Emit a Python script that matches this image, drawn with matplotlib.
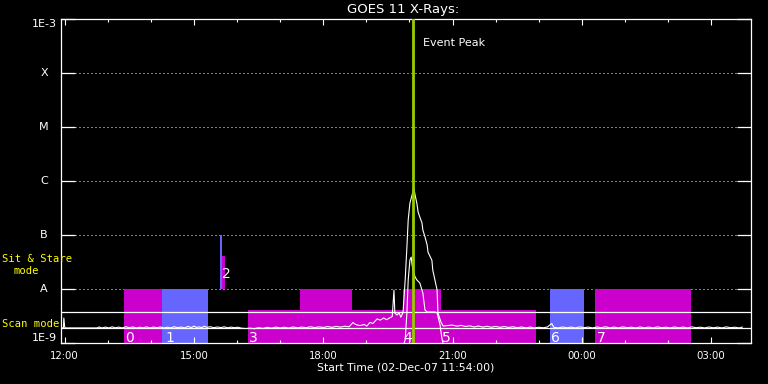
import matplotlib
matplotlib.use("Agg")
import matplotlib.pyplot as plt
import matplotlib.transforms as mtransforms
from matplotlib.ticker import NullLocator

# ---------------- data ----------------
# (hours after 12:00 UT on 02-Dec-07, flux in units of 1e-9 W/m^2)
pre_flare = [(-0.10, 1.90), (-0.03, 1.90), (-0.02, 2.90), (0.00, 1.96), (0.02, 1.90), (0.75, 1.90),
             (0.80, 1.98), (0.86, 1.90), (0.95, 1.97), (1.02, 1.90), (1.10, 1.99), (1.18, 1.91),
             (1.25, 1.97), (1.33, 1.90), (1.42, 2.00), (1.50, 1.92), (1.58, 1.98), (1.66, 1.90),
             (1.74, 1.96), (1.82, 1.91), (1.90, 1.99), (1.98, 1.90), (2.06, 1.97), (2.14, 1.92),
             (2.22, 1.98), (2.30, 1.90), (2.38, 1.96), (2.46, 1.91), (2.54, 2.00), (2.62, 1.92),
             (2.70, 1.98), (2.78, 1.90), (2.86, 2.03), (2.94, 1.93), (3.00, 2.06), (3.06, 1.94),
             (3.12, 1.99), (3.18, 1.92), (3.24, 2.05), (3.30, 1.95), (3.38, 2.00), (3.46, 1.92),
             (3.54, 1.98), (3.62, 1.93), (3.70, 1.99), (3.78, 1.91), (3.86, 1.97), (3.94, 1.92),
             (4.02, 1.96), (4.10, 1.88), (4.20, 1.85), (4.30, 1.88), (4.40, 1.84), (4.50, 1.92),
             (4.60, 1.86), (4.70, 1.95), (4.80, 1.88), (4.90, 1.97), (5.00, 1.90), (5.10, 1.96),
             (5.20, 1.89), (5.30, 1.98), (5.40, 1.91), (5.50, 1.97), (5.60, 1.92), (5.70, 2.00),
             (5.80, 1.93), (5.90, 1.99), (6.00, 1.94), (6.10, 2.02), (6.20, 1.95), (6.30, 2.03),
             (6.40, 1.97), (6.50, 2.05), (6.60, 2.00), (6.69, 2.40), (6.75, 2.20), (6.85, 2.10),
             (6.95, 2.20), (7.01, 2.05), (7.08, 2.40), (7.15, 2.30), (7.25, 2.80), (7.32, 2.65),
             (7.40, 2.90), (7.47, 2.70), (7.55, 2.95), (7.60, 3.10), (7.64, 9.50), (7.66, 3.60),
             (7.71, 3.30), (7.76, 3.60), (7.80, 3.00), (7.85, 3.70)]
flare = [(7.90, 14.7), (7.94, 60.0), (7.97, 190.0), (8.01, 390.0), (8.06, 550.0), (8.10, 740.0),
         (8.13, 550.0), (8.17, 390.0), (8.20, 267.0), (8.24, 215.0), (8.29, 167.0), (8.31, 124.0),
         (8.36, 92.0), (8.41, 65.0), (8.43, 48.0), (8.52, 34.0), (8.54, 22.5), (8.59, 14.7),
         (8.64, 9.6), (8.65, 5.5), (8.66, 3.6), (8.73, 2.45), (8.78, 2.06), (8.87, 2.10)]
post_flare = [(8.99, 2.15), (9.10, 2.05), (9.20, 2.12), (9.30, 2.02), (9.40, 2.08), (9.50, 1.98),
              (9.60, 2.06), (9.70, 1.97), (9.80, 2.04), (9.90, 1.96), (10.00, 2.03), (10.10, 1.95),
              (10.20, 2.02), (10.30, 1.94), (10.40, 2.00), (10.50, 1.92), (10.60, 1.98), (10.70, 1.91),
              (10.80, 1.97), (10.90, 1.90), (11.00, 1.96), (11.10, 1.91), (11.20, 1.98), (11.30, 2.30),
              (11.35, 1.95), (11.45, 1.90), (11.55, 1.98), (11.65, 1.91), (11.75, 1.97), (11.85, 1.90),
              (11.95, 1.99), (12.05, 1.92), (12.15, 1.97), (12.25, 1.90), (12.35, 1.98), (12.45, 1.92),
              (12.55, 2.00), (12.65, 1.91), (12.75, 1.97), (12.85, 1.90), (12.95, 1.99), (13.05, 1.92),
              (13.15, 1.96), (13.25, 1.90), (13.35, 1.98), (13.45, 1.91), (13.55, 1.97), (13.65, 1.90),
              (13.75, 1.99), (13.85, 1.92), (13.95, 1.96), (14.05, 1.90), (14.15, 1.98), (14.25, 1.91),
              (14.35, 1.97), (14.45, 1.90), (14.55, 1.99), (14.65, 1.92), (14.75, 1.96), (14.85, 1.90),
              (14.95, 1.98), (15.05, 1.91), (15.15, 1.97), (15.25, 1.90), (15.35, 1.99), (15.45, 1.92),
              (15.55, 1.96), (15.65, 1.90), (15.72, 1.97)]
short_channel = [(7.83, 0.80), (7.90, 1.14), (7.94, 3.6), (7.97, 14.7), (8.01, 34.4), (8.04, 39.0),
                 (8.06, 28.0), (8.08, 22.5), (8.13, 16.7), (8.17, 14.7), (8.24, 12.9), (8.31, 8.4),
                 (8.36, 4.08), (8.41, 3.75), (8.59, 3.75), (8.64, 3.6), (8.71, 2.15), (8.75, 1.25),
                 (8.80, 0.80)]

# observation blocks: start, end (hours after 12:00), bottom, top flux (1e-9 units)
obs_start = [1.376, 2.258, 3.603, 3.650, 4.253, 5.459, 7.849, 8.731, 11.26, 12.30]
obs_end = [2.258, 3.325, 3.650, 3.720, 7.849, 6.666, 8.731, 10.935, 12.05, 14.53]
obs_bottom = [1.0, 1.0, 10.0, 10.0, 1.0, 1.0, 1.0, 1.0, 1.0, 1.0]
obs_top = [10.0, 10.0, 100.0, 40.8, 4.08, 10.0, 10.0, 4.08, 10.0, 10.0]
obs_kind = ['m', 'b', 'b', 'm', 'm', 'm', 'm', 'm', 'b', 'm']

obs_labels = ['0', '1', '2', '3', '4', '5', '6', '7']
obs_label_t = [1.40, 2.33, 3.654, 4.28, 7.85, 8.75, 11.28, 12.34]
obs_label_flux = [1.04, 1.04, 16.0, 1.04, 1.04, 1.04, 1.04, 1.04]

event_peak_t = 8.08
scan_level = 1.90
sit_level = 3.75

flux_levels = [1e-9, 1e-8, 1e-7, 1e-6, 1e-5, 1e-4, 1e-3]
flux_names = ['1E-9', 'A', 'B', 'C', 'M', 'X', '1E-3']
xtick_pos = [0, 3, 6, 9, 12, 15]
xtick_labels = ['12:00', '15:00', '18:00', '21:00', '00:00', '03:00']
xminor_pos = [1, 2, 4, 5, 7, 8, 10, 11, 13, 14]

NANO = 1e-9

# ---------------- plot ----------------
W, H = 768, 384
fig = plt.figure(figsize=(W / 100, H / 100), dpi=100, facecolor='black')
L, R, T, B = 61, 751, 19, 343
ax = fig.add_axes([L / W, 1 - B / H, (R - L) / W, (B - T) / H])
ax.set_facecolor('black')
ax.set_yscale('log')
ax.set_ylim(1e-9, 1e-3)
ax.set_xlim(-0.086, 15.924)

colors = {'m': '#cc00cc', 'b': '#6666ff'}
for s, e, b0, t0, k in zip(obs_start, obs_end, obs_bottom, obs_top, obs_kind):
    ax.fill_between([s, e], [b0 * NANO] * 2, [t0 * NANO] * 2, color=colors[k], lw=0, zorder=1)

frac = 14 / (R - L)
for lv in flux_levels[1:-1]:
    ax.axhline(lv, frac, 1 - frac, color='white', lw=0.72, ls=(0, (1, 3)), zorder=0.5)
ax.axhline(sit_level * NANO, color='white', lw=0.9, zorder=2)
ax.axhline(scan_level * NANO, color='white', lw=0.9, zorder=2)

long_series = pre_flare + flare + post_flare
ax.plot([p[0] for p in long_series], [p[1] * NANO for p in long_series],
        color='white', lw=0.8, zorder=3)
ax.plot([p[0] for p in short_channel], [p[1] * NANO for p in short_channel],
        color='white', lw=0.8, zorder=3)
ax.axvline(event_peak_t, color='#99cc00', lw=2.0, zorder=4)

for lab, tt, ff in zip(obs_labels, obs_label_t, obs_label_flux):
    ax.text(tt, ff * NANO, lab, color='white', fontsize=10, ha='left', va='baseline', zorder=5)

ax.text(8.31, 3.6e-4, 'Event Peak', color='white', fontsize=8, ha='left', va='center')

for sp in ax.spines.values():
    sp.set_color('white')
    sp.set_linewidth(0.9)
ax.set_xticks(xtick_pos)
ax.set_xticklabels(xtick_labels)
ax.set_xticks(xminor_pos, minor=True)
ax.tick_params(axis='x', which='major', direction='in', length=4.3, width=0.8,
               top=True, bottom=True, colors='white', labelsize=7.3, pad=6)
ax.tick_params(axis='x', which='minor', direction='in', length=2.5, width=0.8,
               top=True, bottom=True, colors='white')
ax.set_yticks(flux_levels)
ax.yaxis.set_minor_locator(NullLocator())
ax.tick_params(axis='y', which='major', direction='in', length=10, width=0.9,
               left=True, right=True, colors='white', labelleft=False)

trans = mtransforms.blended_transform_factory(ax.transAxes, ax.transData)
for lv, nm in zip(flux_levels, flux_names):
    if nm.startswith('1E'):
        va = 'bottom' if lv == 1e-9 else 'top'
        ax.text((57 - L) / (R - L), lv, nm, transform=trans, color='white', fontsize=8,
                ha='right', va=va)
    else:
        ax.text((44 - L) / (R - L), lv, nm, transform=trans, color='white', fontsize=8,
                ha='center', va='center')

fig.text(403 / W, 1 - 10 / H, 'GOES 11 X-Rays:', color='white', fontsize=9.5,
         ha='center', va='center')
fig.text(406 / W, 1 - 367 / H, 'Start Time (02-Dec-07 11:54:00)', color='white',
         fontsize=7.8, ha='center', va='center')
mono = 'DejaVu Sans Mono'
fig.text(2 / W, 1 - 259 / H, 'Sit & Stare', color='#ffff00', fontsize=7.6, family=mono,
         ha='left', va='center')
fig.text(13 / W, 1 - 271 / H, 'mode', color='#ffff00', fontsize=7.6, family=mono,
         ha='left', va='center')
fig.text(2 / W, 1 - 324 / H, 'Scan mode', color='#ffff00', fontsize=7.6, family=mono,
         ha='left', va='center')

fig.savefig('out.png', dpi=100, facecolor='black')
